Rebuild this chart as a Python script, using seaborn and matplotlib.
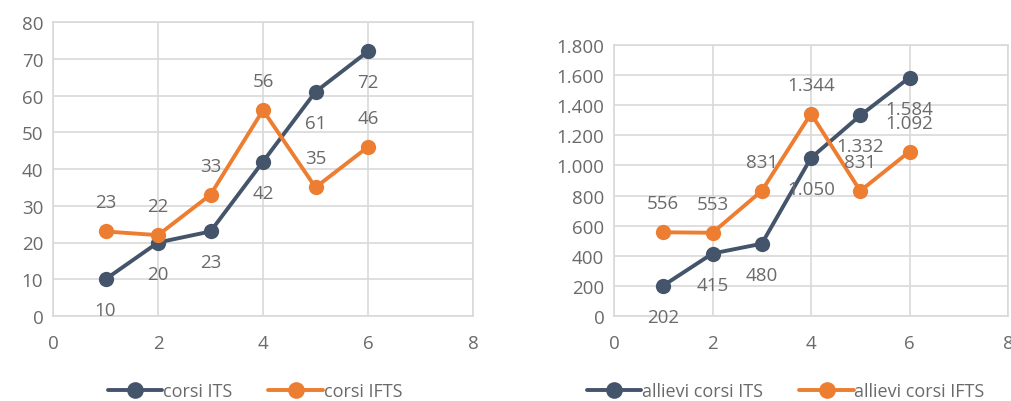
import matplotlib
matplotlib.use("Agg")
import matplotlib.pyplot as plt
import seaborn as sns
import pandas as pd
from matplotlib.ticker import FuncFormatter, MultipleLocator

x_vals = [1, 2, 3, 4, 5, 6]
corsi_its = [10, 20, 23, 42, 61, 72]
corsi_ifts = [23, 22, 33, 56, 35, 46]
allievi_its = [202, 415, 480, 1050, 1332, 1584]
allievi_ifts = [556, 553, 831, 1344, 831, 1092]

names_left = ["corsi ITS", "corsi IFTS"]
names_right = ["allievi corsi ITS", "allievi corsi IFTS"]

sns.set_theme(style="white")
plt.rcParams['font.family'] = ['Open Sans', 'DejaVu Sans']

BLUE = "#44546A"
ORANGE = "#ED7D31"
GRAY = "#6A6A6A"
GRID = "#D9D9D9"
FS = 13.5

fig = plt.figure(figsize=(10.11, 4.02), dpi=100)
ax1 = fig.add_axes([53/1011, 1 - 317/402, 420/1011, 294/402])
ax2 = fig.add_axes([614/1011, 1 - 317/402, 394/1011, 271/402])

def fmt_it(v):
    return f"{int(round(v)):,}".replace(",", ".")

def draw(ax, its, ifts, names, ymax, ystep):
    df = pd.DataFrame({
        "x": x_vals * 2,
        "y": its + ifts,
        "serie": [names[0]] * len(x_vals) + [names[1]] * len(x_vals),
    })
    sns.lineplot(data=df, x="x", y="y", hue="serie", palette=[BLUE, ORANGE],
                 marker="o", markersize=11, markeredgewidth=0, linewidth=2.8,
                 ax=ax, zorder=3)
    ax.set_xlim(0, 8)
    ax.set_ylim(0, ymax)
    ax.xaxis.set_major_locator(MultipleLocator(2))
    ax.yaxis.set_major_locator(MultipleLocator(ystep))
    ax.yaxis.set_major_formatter(FuncFormatter(lambda v, p: fmt_it(v)))
    ax.set_xlabel("")
    ax.set_ylabel("")
    ax.grid(True, color=GRID, linewidth=1.2)
    ax.set_axisbelow(True)
    for s in ax.spines.values():
        s.set_color(GRID)
        s.set_linewidth(1.2)
    ax.tick_params(axis="both", colors=GRAY, labelsize=FS, length=0)
    ax.tick_params(axis="x", pad=13)
    ax.tick_params(axis="y", pad=7)
    for xv, yv in zip(x_vals, its):
        ax.annotate(fmt_it(yv), (xv, yv), xytext=(0, -31), textcoords="offset pixels",
                    ha="center", va="center", color=GRAY, fontsize=FS, zorder=4)
    for xv, yv in zip(x_vals, ifts):
        ax.annotate(fmt_it(yv), (xv, yv), xytext=(0, 29), textcoords="offset pixels",
                    ha="center", va="center", color=GRAY, fontsize=FS, zorder=4)
    h, l = ax.get_legend_handles_labels()
    ax.get_legend().remove()
    return h, l

h1, l1 = draw(ax1, corsi_its, corsi_ifts, names_left, 80, 10)
h2, l2 = draw(ax2, allievi_its, allievi_ifts, names_right, 1800, 200)

for h in h1 + h2:
    h.set_markersize(12)

fig.legend(h1, l1, loc="center", bbox_to_anchor=(255/1011, 1 - 392/402), ncol=2,
           frameon=False, fontsize=13, labelcolor=GRAY, handlelength=3.0,
           handletextpad=0.05, columnspacing=2.0)
fig.legend(h2, l2, loc="center", bbox_to_anchor=(786/1011, 1 - 392/402), ncol=2,
           frameon=False, fontsize=13, labelcolor=GRAY, handlelength=3.0,
           handletextpad=0.05, columnspacing=2.0)

fig.savefig("out.png", dpi=100, facecolor="white")
